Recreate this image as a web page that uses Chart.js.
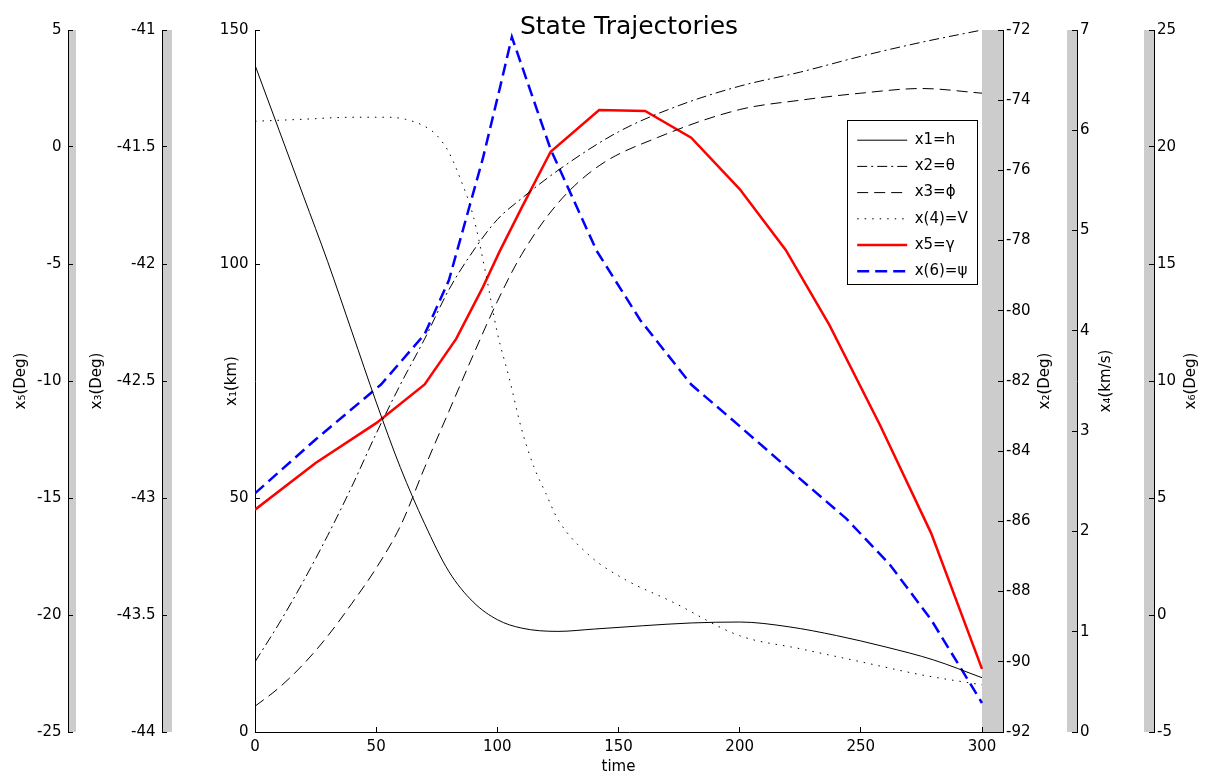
<!DOCTYPE html>
<html><head><meta charset="utf-8">
<script src="https://cdn.jsdelivr.net/npm/chart.js@4/dist/chart.umd.min.js"></script>
<style>html,body{margin:0;padding:0;background:#fff}#wrap{width:1208px;height:778px;position:relative}</style>
</head><body><div id="wrap"><canvas id="c"></canvas></div>
<script>
// ---------------- data ----------------
const chartTitle = 'State Trajectories';
const xTitle = 'time';
const seriesNames = ['x1=h', 'x2=\u03b8', 'x3=\u03d5', 'x(4)=V', 'x5=\u03b3', 'x(6)=\u03c8'];
const axisTitles = ['x\u2081(km)', 'x\u2082(Deg)', 'x\u2083(Deg)', 'x\u2084(km/s)', 'x\u2085(Deg)', 'x\u2086(Deg)'];

const tH = [0,10,20,30,40,50,60,70,80,90,100,110,125,140,160,180,200,220,240,260,280,300];
const h  = [142.5,128.5,114.5,100.5,85.5,70.5,56.5,44.5,34.3,27.8,24.0,22.2,21.5,22.0,22.7,23.3,23.5,22.5,20.6,18.2,15.4,11.6];

const tTheta = [0,10,20,30,40,50,60,70,80,90,100,110,125,150,175,200,225,250,275,300];
const theta  = [-90.0,-88.9,-87.7,-86.4,-85.0,-83.5,-82.1,-80.8,-79.4,-78.3,-77.4,-76.8,-76.0,-74.9,-74.15,-73.6,-73.2,-72.75,-72.35,-72.0];

const tPhi = [0,10,20,30,40,50,60,70,80,90,100,110,125,142,166,200,225,250,275,300];
const phi  = [-43.89,-43.81,-43.71,-43.59,-43.45,-43.30,-43.12,-42.87,-42.63,-42.39,-42.16,-41.96,-41.74,-41.58,-41.46,-41.34,-41.30,-41.27,-41.25,-41.27];

const tV = [0,20,40,55,62,70,75,80,85,90,95,100,105,110,115,120,125,138,152,172,200,225,250,275,300];
const V  = [6.09,6.11,6.13,6.13,6.11,6.04,5.95,5.78,5.5,5.15,4.6,3.98,3.52,3.02,2.65,2.38,2.12,1.76,1.53,1.30,0.96,0.83,0.70,0.57,0.47];

const tGamma = [0,25,50,70,83,94,101,110,122,142,161,180,200,219,237,258,279,300];
const gamma  = [-15.5,-13.5,-11.8,-10.15,-8.2,-6.0,-4.45,-2.6,-0.2,1.58,1.54,0.4,-1.8,-4.4,-7.6,-11.9,-16.5,-22.3];

const tPsi = [0,25,52,70,80,87,94,101,106,122,141,159,180,200,224,244,262,279,292,300];
const psi  = [5.2,7.5,9.85,12.0,14.3,16.9,19.5,22.5,24.7,19.9,15.56,12.6,9.85,8.07,5.9,4.12,2.15,-0.2,-2.4,-3.76];

// axis ranges [min, max, step]
const rangeX  = [0, 300, 50];
const rangeY1 = [0, 150, 50];
const rangeY2 = [-92, -72, 2];
const rangeY3 = [-44, -41, 0.5];
const rangeY4 = [0, 7, 1];
const rangeY5 = [-25, 5, 5];
const rangeY6 = [-5, 25, 5];

// ---------------- styling ----------------
const FONT = "'DejaVu Sans', 'Liberation Sans', sans-serif";
const GRAY = '#cccccc';
const deco = {
  y5: {side:'left',  width:68, bar:8,  tx:-47, title:axisTitles[4]},
  y3: {side:'left',  width:94, bar:10, tx:-65, title:axisTitles[2]},
  y1: {side:'left',  width:93, bar:0,  tx:-23, title:axisTitles[0]},
  y2: {side:'right', width:74, bar:21, tx:42,  title:axisTitles[1]},
  y4: {side:'right', width:77, bar:10, tx:29,  title:axisTitles[3]},
  y6: {side:'right', width:54, bar:10, tx:37,  title:axisTitles[5]}
};
const xExtra = 21;
const plotW = 727;
const legendFrame = {left: 847, top: 120, w: 130, h: 164};

function pts(t, v) { return t.map((x, i) => ({x: x, y: v[i]})); }
function fmt(v) { return String(Math.round(v * 1000) / 1000); }

function yAxis(id, weight, r) {
  const d = deco[id];
  return {
    type: 'linear', axis: 'y', position: d.side, weight: weight,
    min: r[0], max: r[1],
    ticks: {stepSize: r[2], includeBounds: false, autoSkip: false,
      padding: d.side === 'left' ? 11.5 : 8, color: '#000',
      font: {family: FONT, size: 15}, callback: fmt},
    grid: {drawOnChartArea: false, tickLength: -5, color: '#000', lineWidth: 1},
    border: {color: '#000', width: 1},
    afterFit: s => { s.width = d.width; }
  };
}

const decoPlugin = {
  id: 'deco',
  beforeDraw(chart) {
    const ctx = chart.ctx;
    ctx.save();
    ctx.fillStyle = '#fff';
    ctx.fillRect(0, 0, chart.width, chart.height);
    ctx.fillStyle = GRAY;
    Object.keys(deco).forEach(id => {
      const s = chart.scales[id], d = deco[id];
      if (!s || !d.bar) return;
      const x = d.side === 'left' ? s.right : s.left - d.bar;
      ctx.fillRect(x, s.top, d.bar, s.bottom - s.top);
    });
    ctx.restore();
  },
  afterLayout(chart) {
    const lg = chart.legend;
    if (lg) { lg.left = legendFrame.left - 1; lg.top = legendFrame.top + 1.5; lg.right = legendFrame.left + legendFrame.w; lg.bottom = 700; }
  },
  afterDraw(chart) {
    const ctx = chart.ctx;
    ctx.save();
    ctx.fillStyle = '#000';
    ctx.font = '15px ' + FONT;
    ctx.textAlign = 'center';
    ctx.textBaseline = 'middle';
    Object.keys(deco).forEach(id => {
      const s = chart.scales[id], d = deco[id];
      const bx = d.side === 'left' ? s.right : s.left;
      ctx.save();
      ctx.translate(bx + d.tx, (s.top + s.bottom) / 2);
      ctx.rotate(-Math.PI / 2);
      ctx.fillText(d.title, 0, 0);
      ctx.restore();
    });
    // x axis title, centred under the 0..300 range
    const sx = chart.scales.x;
    const cx = (sx.getPixelForValue(rangeX[0]) + sx.getPixelForValue(rangeX[1])) / 2;
    ctx.fillText(xTitle, cx, 767);
    ctx.strokeStyle = '#000';
    ctx.lineWidth = 1;
    ctx.strokeRect(legendFrame.left + 0.5, legendFrame.top + 0.5, legendFrame.w, legendFrame.h);
    ctx.restore();
  }
};

const common = {pointRadius: 0, pointHoverRadius: 0, fill: false};

new Chart(document.getElementById('c'), {
  type: 'line',
  data: {
    datasets: [
      Object.assign({label: seriesNames[0], data: pts(tH, h), yAxisID: 'y1', borderColor: '#000', borderWidth: 1, cubicInterpolationMode: 'monotone'}, common),
      Object.assign({label: seriesNames[1], data: pts(tTheta, theta), yAxisID: 'y2', borderColor: '#000', borderWidth: 1, borderDash: [10, 4, 2, 4], cubicInterpolationMode: 'monotone'}, common),
      Object.assign({label: seriesNames[2], data: pts(tPhi, phi), yAxisID: 'y3', borderColor: '#000', borderWidth: 1, borderDash: [11, 6], cubicInterpolationMode: 'monotone'}, common),
      Object.assign({label: seriesNames[3], data: pts(tV, V), yAxisID: 'y4', borderColor: '#000', borderWidth: 1, borderDash: [1.5, 6], cubicInterpolationMode: 'monotone'}, common),
      Object.assign({label: seriesNames[4], data: pts(tGamma, gamma), yAxisID: 'y5', borderColor: '#ff0000', borderWidth: 2.5, tension: 0}, common),
      Object.assign({label: seriesNames[5], data: pts(tPsi, psi), yAxisID: 'y6', borderColor: '#0000ff', borderWidth: 2.5, borderDash: [12, 6], tension: 0}, common)
    ]
  },
  options: {
    responsive: true, maintainAspectRatio: false, animation: false, events: [],
    layout: {padding: 0},
    scales: {
      x: {
        type: 'linear', position: 'bottom',
        min: rangeX[0], max: rangeX[1] * (plotW + xExtra) / plotW,
        ticks: {stepSize: rangeX[2], includeBounds: false, autoSkip: false, maxRotation: 0,
          padding: 11, color: '#000', font: {family: FONT, size: 15}, callback: fmt},
        grid: {drawOnChartArea: false, tickLength: -5, color: '#000', lineWidth: 1},
        border: {color: '#000', width: 1},
        title: {display: false, text: xTitle},
        afterFit: s => { s.height = 46; }
      },
      y5: yAxis('y5', 30, rangeY5),
      y3: yAxis('y3', 20, rangeY3),
      y1: yAxis('y1', 10, rangeY1),
      y2: yAxis('y2', 10, rangeY2),
      y4: yAxis('y4', 20, rangeY4),
      y6: yAxis('y6', 30, rangeY6)
    },
    plugins: {
      title: {display: true, text: chartTitle, fullSize: false, color: '#000',
        font: {family: FONT, size: 25, weight: 'normal'}, padding: {top: 12, bottom: -12}},
      legend: {display: true, position: 'chartArea', align: 'start',
        labels: {usePointStyle: true, pointStyle: 'line', pointStyleWidth: 50, padding: 11.2,
          color: '#000', font: {family: FONT, size: 15},
          generateLabels: chart => {
            const items = Chart.defaults.plugins.legend.labels.generateLabels(chart);
            items.forEach(it => {
              const ds = chart.data.datasets[it.datasetIndex];
              it.lineDash = ds.borderDash || [];
              it.lineWidth = ds.borderWidth;
              it.strokeStyle = ds.borderColor;
              it.pointStyle = 'line';
            });
            return items;
          }}},
      tooltip: {enabled: false}
    }
  },
  plugins: [decoPlugin]
});
</script>
</body></html>
